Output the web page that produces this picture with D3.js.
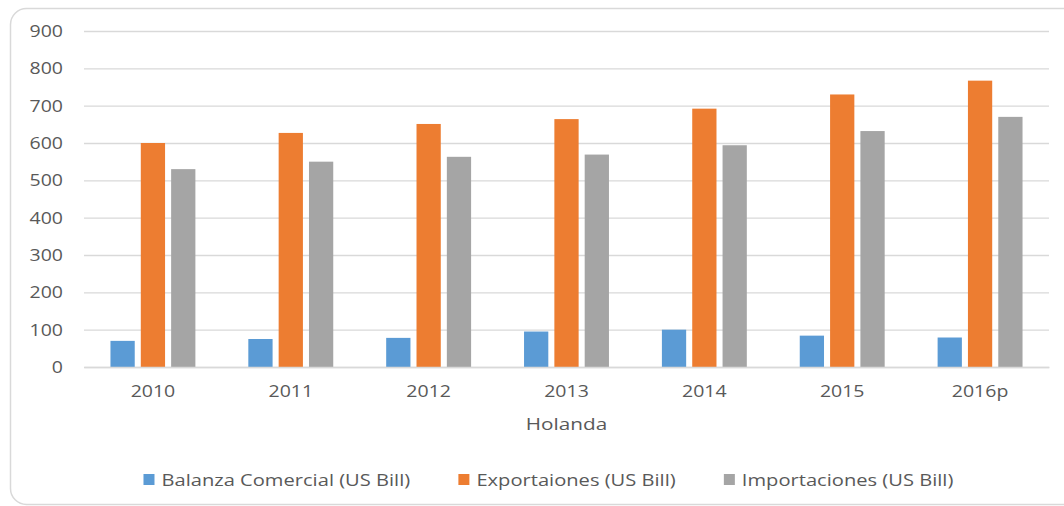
<!DOCTYPE html>
<html>
<head>
<meta charset="utf-8">
<script src="https://cdn.jsdelivr.net/npm/d3@7"></script>
<style>
  body { margin: 0; background: #fff; }
  text { font-family: "Open Sans", sans-serif; fill: #595959; }
</style>
</head>
<body>
<script>
// values (US Bill)
const years = ["2010", "2011", "2012", "2013", "2014", "2015", "2016p"];
const series = ["Balanza Comercial (US Bill)", "Exportaiones (US Bill)", "Importaciones (US Bill)"];
const balanza = [70, 75, 78, 95, 100, 84, 79];
const exportaciones = [600, 627, 651, 664, 692, 730, 767];
const importaciones = [530, 550, 563, 569, 594, 632, 670];
const yTicks = [0, 100, 200, 300, 400, 500, 600, 700, 800, 900];
const colors = ["#5b9bd5", "#ed7d31", "#a5a5a5"];

const width = 1064;
const height = 506;
const marginTop = 31;
const marginRight = 15;
const marginBottom = 139;
const marginLeft = 84;
const stretch = 1.22; // the picture's text is drawn a bit wide

const rows = years.map((year, i) => ({
  year,
  values: [balanza[i], exportaciones[i], importaciones[i]]
}));

const svg = d3.select("body")
  .append("svg")
    .attr("width", width)
    .attr("height", height)
    .attr("viewBox", [0, 0, width, height]);

// chart frame
svg.append("rect")
    .attr("x", 10.5)
    .attr("y", 8.5)
    .attr("width", 1070)
    .attr("height", 496)
    .attr("rx", 16)
    .attr("fill", "none")
    .attr("stroke", "#d9d9d9")
    .attr("stroke-width", 1.5);

const x0 = d3.scaleBand()
    .domain(years)
    .range([marginLeft, width - marginRight])
    .paddingInner(0.384)
    .paddingOuter(0.192);

const x1 = d3.scaleBand()
    .domain(d3.range(series.length))
    .range([0, x0.bandwidth()])
    .paddingInner(0.2);

const y = d3.scaleLinear()
    .domain([0, 900])
    .range([height - marginBottom, marginTop]);

// grid lines + y labels
svg.append("g")
    .attr("transform", `translate(${marginLeft},0)`)
    .call(d3.axisLeft(y).tickValues(yTicks).tickSize(-(width - marginRight - marginLeft)).tickPadding(0))
    .call(g => g.select(".domain").remove())
    .call(g => g.selectAll(".tick line").attr("stroke", "#d9d9d9").attr("stroke-width", 1.3))
    .call(g => g.selectAll(".tick text")
        .attr("x", 0)
        .attr("dy", "0.35em")
        .attr("transform", `translate(-21,0) scale(${stretch},1)`)
        .attr("font-size", 16)
        .attr("fill", "#595959"));

// bars
svg.append("g")
  .selectAll("g")
  .data(rows)
  .join("g")
    .attr("transform", d => `translate(${x0(d.year)},0)`)
  .selectAll("rect")
  .data(d => d.values.map((v, k) => ({ v, k })))
  .join("rect")
    .attr("x", d => x1(d.k))
    .attr("y", d => y(d.v))
    .attr("width", x1.bandwidth())
    .attr("height", d => y(0) - y(d.v))
    .attr("fill", d => colors[d.k]);

// x axis
svg.append("g")
    .attr("transform", `translate(0,${y(0)})`)
    .call(d3.axisBottom(x0).tickSize(0).tickPadding(0))
    .call(g => g.select(".domain").attr("stroke", "#d9d9d9").attr("stroke-width", 1.3))
    .call(g => g.selectAll(".tick text")
        .attr("y", 0)
        .attr("dy", 0)
        .attr("transform", `translate(0,30) scale(${stretch},1)`)
        .attr("font-size", 16)
        .attr("fill", "#595959"));

// axis title
svg.append("text")
    .attr("transform", `translate(${(marginLeft + width - marginRight) / 2},430) scale(${stretch},1)`)
    .attr("text-anchor", "middle")
    .attr("font-size", 17)
    .text("Holanda");

// legend
const legend = svg.append("g");
const items = legend.selectAll("g")
  .data(series)
  .join("g");
items.append("rect")
    .attr("width", 11)
    .attr("height", 11)
    .attr("y", 474)
    .attr("fill", (d, i) => colors[i]);
items.append("text")
    .attr("font-size", 16.5)
    .text(d => d);

let cx = 0;
const offsets = [];
items.each(function () {
  const w = d3.select(this).select("text").node().getComputedTextLength() * stretch;
  offsets.push(cx);
  cx += 18 + w + 48;
});
const legendWidth = cx - 48;
const legendLeft = 548.5 - legendWidth / 2;
items.each(function (d, i) {
  const g = d3.select(this);
  g.select("rect").attr("x", legendLeft + offsets[i]);
  g.select("text").attr("transform", `translate(${legendLeft + offsets[i] + 18},485.5) scale(${stretch},1)`);
});
</script>
</body>
</html>
